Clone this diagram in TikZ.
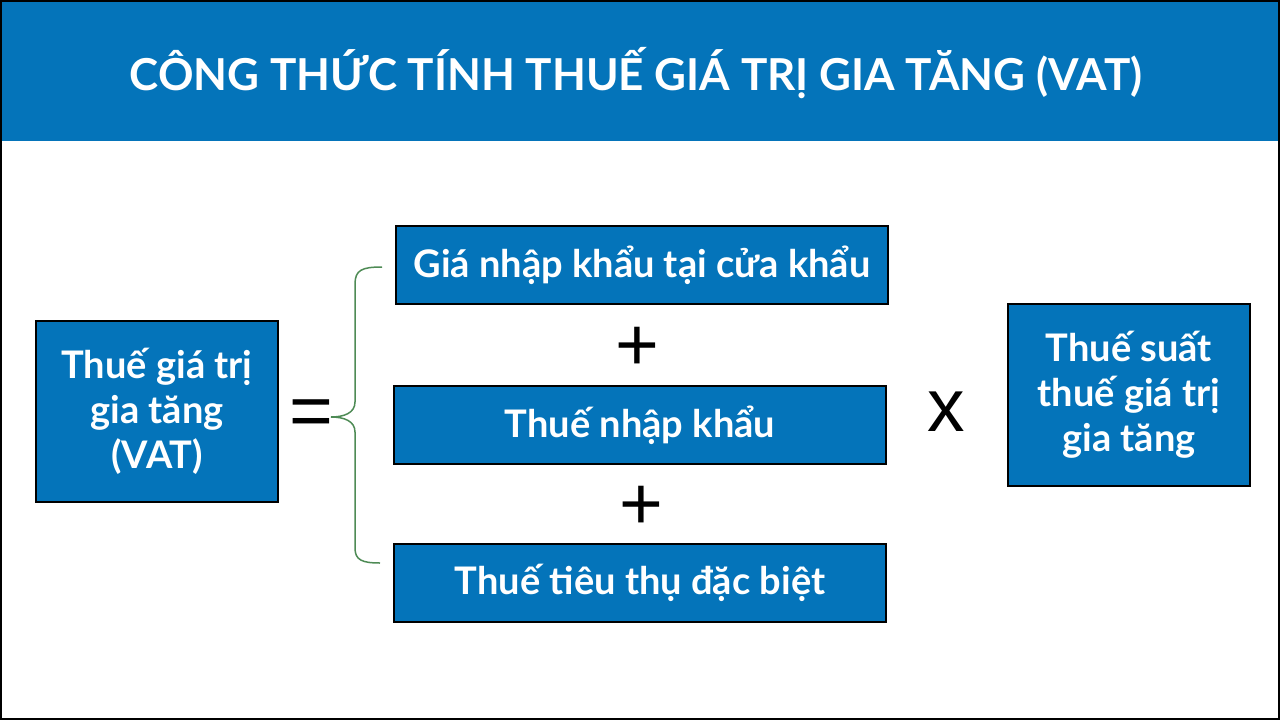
\documentclass[tikz,border=0pt]{standalone}
\usepackage{fontspec}
\setmainfont{Lato}
\newfontfamily\signfont{Liberation Sans}
\usetikzlibrary{positioning,calc}
\definecolor{vatblue}{HTML}{0474BA}
\definecolor{bracegreen}{HTML}{4E8B55}

\tikzset{
  vatbox/.style={draw=black, line width=2pt, fill=vatblue, text=white,
    font=\fontsize{38}{45}\selectfont\bfseries, align=center, inner sep=0pt},
  signtxt/.style={font=\signfont\fontsize{75}{75}\selectfont, inner sep=0pt}
}

\begin{document}
\begin{tikzpicture}[x=1pt,y=-1pt]
    \useasboundingbox (0,0) rectangle (1280,720);
    % Title band
    \fill[vatblue] (0,0) rectangle (1280,141);
    \node[text=white, font=\fontsize{44}{50}\selectfont\bfseries] (title) at (636,73) {CÔNG THỨC TÍNH THUẾ GIÁ TRỊ GIA TĂNG (VAT)};
    
    % Left side
    \node[vatbox, minimum width=242pt, minimum height=181pt] (vat) at (157,411.5) {Thuế giá trị\\gia tăng\\(VAT)};
    \node[signtxt] (eq) at (311,418) {=};
    
    % Sum of three terms
    \node[vatbox, minimum width=492pt, minimum height=78pt] (gia) at (642,265) {Giá nhập khẩu tại cửa khẩu};
    \node[signtxt] (plusa) at (637,349) {+};
    \node[vatbox, minimum width=492pt, minimum height=78pt] (nk) at (640,425) {Thuế nhập khẩu};
    \node[signtxt] (plusb) at (641,508) {+};
    \node[vatbox, minimum width=492pt, minimum height=78pt] (ttdb) at (640,583) {Thuế tiêu thụ đặc biệt};
    
    % Brace
    \coordinate (brtop) at (382,267);
    \coordinate (brtip) at (331,417);
    \coordinate (brbot) at (380,563);
    \draw[bracegreen, line width=1.5pt] (brtop) .. controls (362,267) and (355,270) .. (355,284)
        -- (355,402) .. controls (355,413) and (344,417) .. (brtip)
        .. controls (344,417) and (355,421) .. (355,432)
        -- (355,548) .. controls (355,560) and (362,563) .. (brbot);
    
    % Rate
    \node[signtxt] (times) at (946,412) {x};
    \node[vatbox, minimum width=242pt, minimum height=182pt] (rate) at (1129,395) {Thuế suất\\thuế giá trị\\gia tăng};
    
    % Frame
    \draw[line width=2pt] (1,1) rectangle (1279,719);
\end{tikzpicture}
\end{document}
